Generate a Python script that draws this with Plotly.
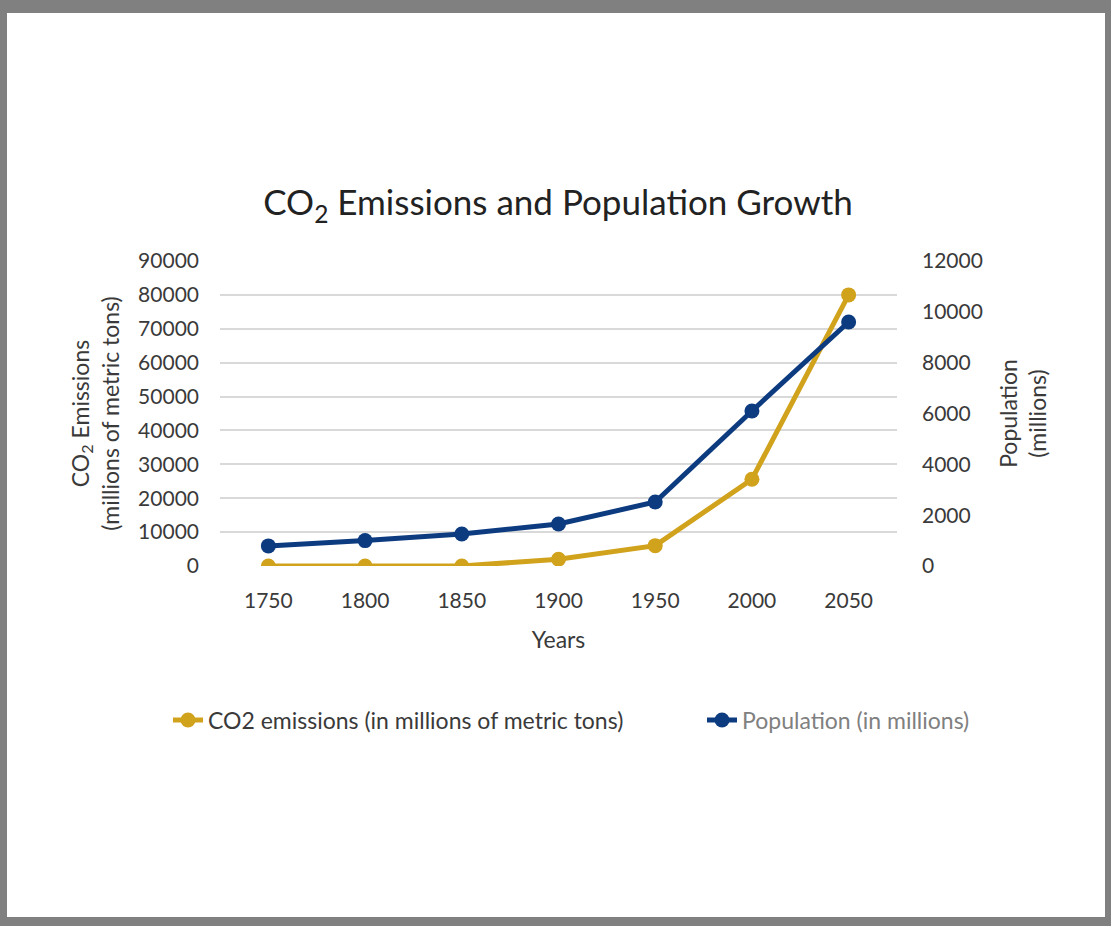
import plotly.graph_objects as go

years = ["1750", "1800", "1850", "1900", "1950", "2000", "2050"]
co2_emissions = [0, 0, 0, 2000, 6000, 25600, 80000]
population = [790, 1000, 1260, 1650, 2520, 6100, 9600]

left_ticks = [0, 10000, 20000, 30000, 40000, 50000, 60000, 70000, 80000, 90000]
right_ticks = [0, 2000, 4000, 6000, 8000, 10000, 12000]

YELLOW = "#D1A21C"
BLUE = "#0D3B80"
TXT = "#3a3a3a"
FONT = "Lato, 'Open Sans', sans-serif"

W, H = 1111, 926
L, R, T, B = 220, 897, 261, 566
pw, ph = R - L, B - T


def px(x):
    return (x - L) / pw


def py(y):
    return (B - y) / ph


fig = go.Figure()
fig.add_trace(go.Scatter(
    x=years, y=co2_emissions, name="CO2 emissions (in millions of metric tons)",
    mode="lines+markers", line=dict(color=YELLOW, width=5),
    marker=dict(color=YELLOW, size=15), yaxis="y", legend="legend"))
fig.add_trace(go.Scatter(
    x=years, y=population,
    name="<span style='color:#808080'>Population (in millions)</span>",
    mode="lines+markers", line=dict(color=BLUE, width=5),
    marker=dict(color=BLUE, size=15), yaxis="y2", legend="legend2"))

shapes = [
    dict(type="rect", xref="paper", yref="paper", layer="below",
         x0=px(0), x1=px(W), y0=py(H), y1=py(0),
         fillcolor="#808080", line=dict(width=0)),
    dict(type="rect", xref="paper", yref="paper", layer="below",
         x0=px(7), x1=px(1105), y0=py(917), y1=py(13),
         fillcolor="white", line=dict(width=0)),
]

legend_common = dict(orientation="h", xanchor="left", yanchor="middle",
                     y=py(720), font=dict(size=23, color=TXT),
                     bgcolor="rgba(0,0,0,0)")

fig.update_layout(
    width=W, height=H,
    margin=dict(l=L, r=W - R, t=T, b=H - B, autoexpand=False),
    paper_bgcolor="white", plot_bgcolor="rgba(0,0,0,0)",
    font=dict(family=FONT, size=21, color=TXT),
    title=dict(text="CO<sub>2</sub> Emissions and Population Growth",
               x=px(558), xref="paper", xanchor="center",
               y=1 - 203 / H, yanchor="middle",
               font=dict(size=35, color="#222")),
    xaxis=dict(type="category", range=[-0.5, 6.5], showgrid=False,
               showline=False, zeroline=False, ticks="",
               ticklabelstandoff=20,
               title=dict(text="Years", standoff=20, font=dict(size=23))),
    yaxis=dict(range=[0, 90000], tickvals=left_ticks,
               ticktext=[str(v) for v in left_ticks], showgrid=True,
               gridcolor="#d9d9d9", gridwidth=1.5, zeroline=False,
               showline=False, ticks="", ticklabelstandoff=20,
               title=dict(text="CO<sub>2</sub> Emissions<br>(millions of metric tons)",
                          standoff=12, font=dict(size=23))),
    yaxis2=dict(range=[0, 12000], tickvals=right_ticks,
                ticktext=[str(v) for v in right_ticks], overlaying="y",
                side="right", showgrid=False, zeroline=False, showline=False,
                ticks="", ticklabelstandoff=24,
                title=dict(text="Population<br>(millions)", standoff=18,
                           font=dict(size=23))),
    legend=dict(x=px(168), **legend_common),
    legend2=dict(x=px(702), **legend_common),
    showlegend=True,
    shapes=shapes,
)

fig.write_html("out.html", config={"displayModeBar": False},
               post_script="document.body.style.margin='0';")
